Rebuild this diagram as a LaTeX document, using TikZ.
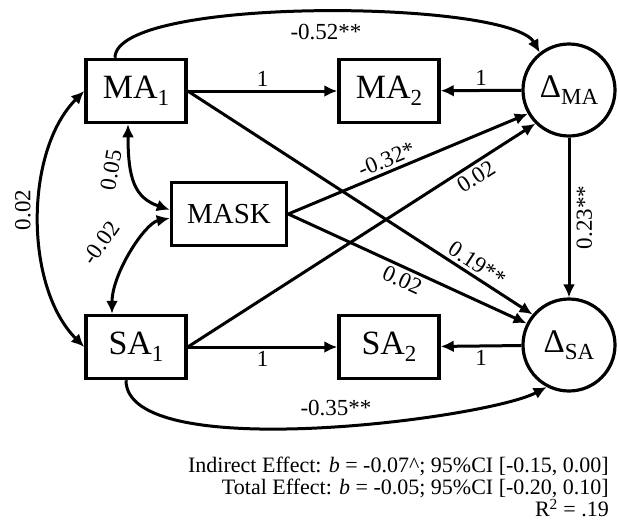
\documentclass[tikz,border=0pt]{standalone}
\usepackage{fontspec}
\setmainfont{Liberation Serif}
\usepackage{tikz}
\usetikzlibrary{positioning, arrows.meta}

\newcommand{\lowsub}[1]{\raisebox{-7pt}{\fontsize{23}{23}\selectfont #1}}

\begin{document}
\begin{tikzpicture}[x=1pt, y=-1pt,
  var/.style={draw, line width=3.5pt, minimum width=100pt, minimum height=63pt, inner sep=0pt, font=\fontsize{34}{36}\selectfont},
  latent/.style={draw, circle, line width=3.2pt, minimum size=92pt, inner sep=0pt, font=\fontsize{33}{36}\selectfont},
  arr/.style={line width=3pt, -{Latex[length=13pt, width=12pt]}},
  dbl/.style={line width=3pt, {Latex[length=13pt, width=12pt]}-{Latex[length=13pt, width=12pt]}},
  lab/.style={font=\fontsize{23}{25}\selectfont, inner sep=3pt}
]
\useasboundingbox (0,0) rectangle (619,528);

% --- observed and change variables ---
\node[var] (MA1) at (136,91) {MA\lowsub{1}};
\node[var] (MA2) at (389,91) {MA\lowsub{2}};
\node[latent] (dMA) at (569,90) {Δ\lowsub{MA}};
\node[var, minimum width=115pt, font=\fontsize{29}{30}\selectfont] (MASK) at (229,214) {MASK};
\node[var] (SA1) at (136,347) {SA\lowsub{1}};
\node[var] (SA2) at (389,347) {SA\lowsub{2}};
\node[latent] (dSA) at (569,345) {Δ\lowsub{SA}};

% --- fixed paths ---
\draw[arr] (MA1) -- node[lab, above] (fMA1) {1} (MA2);
\draw[arr] (dMA) -- node[lab, above] (fMA2) {1} (MA2);
\draw[arr] (SA1) -- node[lab, below] (fSA1) {1} (SA2);
\draw[arr] (dSA) -- node[lab, below] (fSA2) {1} (SA2);

% --- structural paths ---
\draw[arr] (dMA) -- node[lab, pos=0.5, rotate=90, anchor=north, inner sep=6pt] (bMS) {0.23**} (dSA);
\draw[arr] (MA1.east) -- node[lab, sloped, above, pos=0.82] (bMA1SA) {0.19**} (dSA.140);
\draw[arr] (MASK.east) -- node[lab, sloped, below, pos=0.5] (bKSA) {0.02} (dSA.153);
\draw[arr] (MASK.east) -- node[lab, sloped, above, pos=0.43] (bKMA) {-0.32*} (dMA.210);
\draw[arr] (SA1.east) -- node[lab, sloped, below, pos=0.81] (bSA1MA) {0.02} (dMA.225);

% --- autoregressive curves ---
\draw[arr] ([xshift=-21pt]MA1.north) .. controls +(0,-62) and +(-30,-53) .. (dMA.128);
\node[lab] (bMAMA) at (326,32) {-0.52**};
\draw[arr] ([xshift=-10pt]SA1.south) .. controls +(0,85) and +(-60,32) .. (dSA.242);
\node[lab] (bSASA) at (336,408) {-0.35**};

% --- covariances ---
\draw[dbl] (MA1.west) .. controls +(-60,60) and +(-60,-60) .. (SA1.west);
\node[lab, rotate=90] (cMS) at (23,210) {0.02};
\draw[dbl] ([xshift=-8pt]MA1.south) .. controls +(0,55) and +(-35,-12) .. (MASK.176);
\node[lab, rotate=80] (cMK) at (111,170) {0.05};
\draw[dbl] (MASK.184) .. controls +(-25,5) and +(0,-40) .. ([xshift=-24pt]SA1.north);
\node[lab, rotate=55] (cKS) at (101,243) {-0.02};

% --- effects ---
\node[align=right, anchor=north east, inner sep=0pt, font=\fontsize{22}{22}\selectfont] (effects) at (609,457)
  {Indirect Effect: \textit{b} = -0.07\textasciicircum; 95\%CI [-0.15, 0.00]\\
   Total Effect: \textit{b} = -0.05; 95\%CI [-0.20, 0.10]\\
   R\textsuperscript{2} = .19};
\end{tikzpicture}
\end{document}
